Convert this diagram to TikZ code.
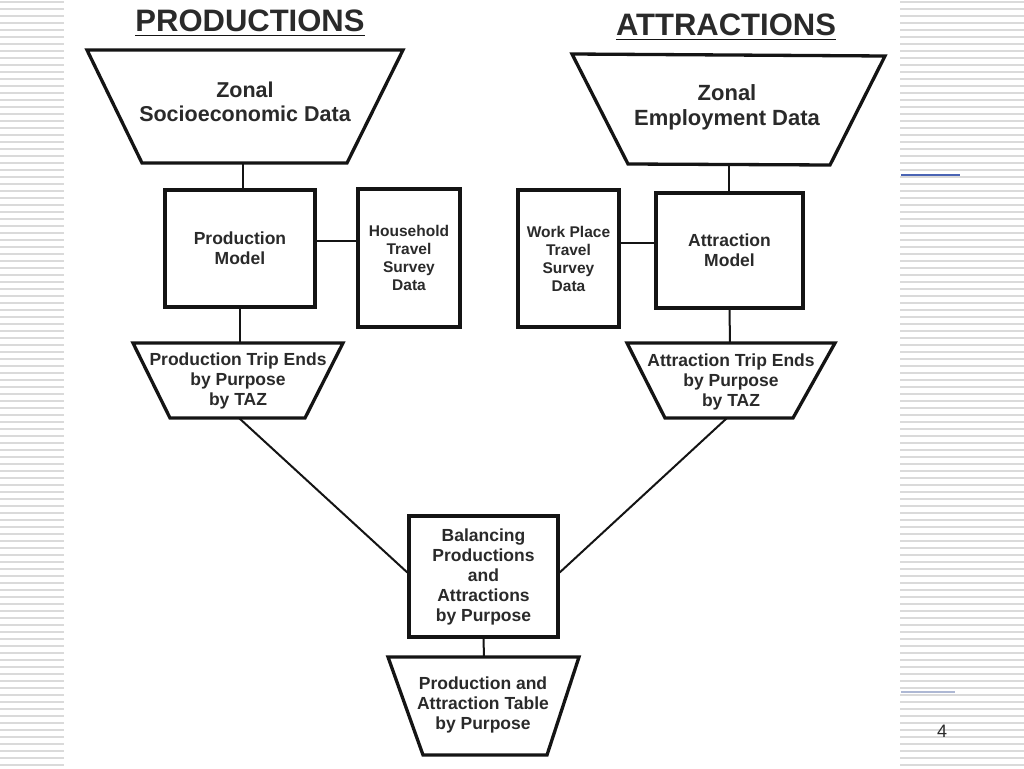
\documentclass[tikz,border=0pt]{standalone}
\usepackage{fontspec}
\setmainfont{Liberation Sans}
\definecolor{ink}{HTML}{141414}
\definecolor{txt}{HTML}{2A2A2A}
\definecolor{stripe}{HTML}{DADADA}
\definecolor{linkA}{HTML}{4A64B4}
\definecolor{linkB}{HTML}{AEB8D4}
\begin{document}
\begin{tikzpicture}[x=1pt,y=-1pt,
  box/.style={draw=ink, line width=3.3pt, inner sep=0pt, align=center, text=txt,
              font=\bfseries\fontsize{17.5}{20}\selectfont},
  survey/.style={box, font=\bfseries\fontsize{15.5}{18}\selectfont},
  trapz/.style={draw=ink, line width=3.3pt, line join=miter},
  lbl/.style={align=center, text=txt, inner sep=0pt, font=\bfseries\fontsize{17.5}{20}\selectfont},
  biglbl/.style={lbl, font=\bfseries\fontsize{21.5}{23.5}\selectfont},
  title/.style={text=txt, inner sep=0pt, font=\bfseries\fontsize{31}{34}\selectfont},
  conn/.style={draw=ink, line width=2pt},
  stripeline/.style={draw=stripe, line width=1.3pt}]
\useasboundingbox (0,0) rectangle (1024,768);
\fill[white] (0,0) rectangle (1024,768);
% striped margins
\foreach \y in {2,9,...,767} {
  \draw[stripeline] (0,\y) -- (64,\y);
  \draw[stripeline] (900,\y) -- (1024,\y);
}
\draw[draw=linkA, line width=1.6pt] (901,175) -- (960,175);
\draw[draw=linkB, line width=1.2pt] (901,692) -- (955,692);

% titles
\node[title] (ptitle) at (250,21) {PRODUCTIONS};
\draw[ink, line width=1.6pt] ([yshift=-4pt]ptitle.base west) -- ([yshift=-4pt]ptitle.base east);
\node[title] (atitle) at (726,25) {ATTRACTIONS};
\draw[ink, line width=1.6pt] ([yshift=-4pt]atitle.base west) -- ([yshift=-4pt]atitle.base east);

% trapezoids
\draw[trapz] (87,50) -- (403,50) -- (347,163) -- (142,163) -- cycle;
\coordinate (t1b) at (243,163);
\node[biglbl] (t1) at (245,102) {Zonal\\Socioeconomic Data};

\draw[trapz] (572,54) -- (885,56) -- (830,165) -- (628,164) -- cycle;
\coordinate (t2b) at (729,165);
\node[biglbl, font=\bfseries\fontsize{22}{25}\selectfont] (t2) at (727,107) {Zonal\\Employment Data};

\draw[trapz] (133,343) -- (343,343) -- (305,418) -- (170,418) -- cycle;
\coordinate (t3t) at (240,343);
\coordinate (t3b) at (239,418);
\node[lbl] (t3) at (238,381) {Production Trip Ends\\by Purpose\\by TAZ};

\draw[trapz] (627,343) -- (835,343) -- (793,418) -- (665,418) -- cycle;
\coordinate (t4t) at (730,343);
\coordinate (t4b) at (727,418);
\node[lbl] (t4) at (731,382) {Attraction Trip Ends\\by Purpose\\by TAZ};

\draw[trapz] (388,657) -- (579,657) -- (547,755) -- (423,755) -- cycle;
\coordinate (t5t) at (484,657);
\node[lbl] (t5) at (483,705) {Production and\\Attraction Table\\by Purpose};

% boxes
\node[box, minimum width=150, minimum height=117] (pm) at (240,248.5) {Production\\Model};
\node[survey, minimum width=102, minimum height=138] (hh) at (409,258) {Household\\Travel\\Survey\\Data};
\node[survey, minimum width=101, minimum height=137] (wp) at (568.5,258.5) {Work Place\\Travel\\Survey\\Data};
\node[box, minimum width=147, minimum height=115] (am) at (729.5,250.5) {Attraction\\Model};
\node[box, minimum width=149, minimum height=121] (bal) at (483.5,576.5) {Balancing\\Productions\\and\\Attractions\\by Purpose};

% connectors
\draw[conn] (t1b) -- (t1b |- pm.north);
\draw[conn] (pm.south) -- (t3t);
\draw[conn] ([yshift=7.5pt]pm.east) -- ([yshift=7.5pt]pm.east -| hh.west);
\draw[conn] (t2b) -- (t2b |- am.north);
\draw[conn] (am.south) -- (t4t);
\draw[conn] ([yshift=7.5pt]am.west) -- ([yshift=7.5pt]am.west -| wp.east);
\draw[conn] (t3b) -- ([yshift=4pt]bal.west);
\draw[conn] (t4b) -- ([yshift=4pt]bal.east);
\draw[conn] (bal.south) -- (t5t);

% page number
\node[text=txt, inner sep=0pt, font=\fontsize{18}{20}\selectfont] (pg) at (942,731) {4};
\end{tikzpicture}
\end{document}
